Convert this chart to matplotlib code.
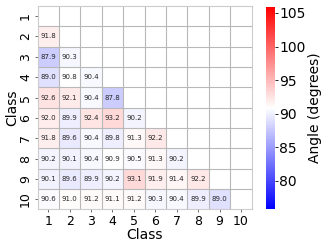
import numpy as np
import matplotlib
matplotlib.use("Agg")
import matplotlib.pyplot as plt

classes = [str(i) for i in range(1, 11)]

# lower triangle rows (class 2..10)
rows = [
    [91.8],
    [87.9, 90.3],
    [89.0, 90.8, 90.4],
    [92.6, 92.1, 90.4, 87.8],
    [92.0, 89.9, 92.4, 93.2, 90.2],
    [91.8, 89.6, 90.4, 89.8, 91.3, 92.2],
    [90.2, 90.1, 90.4, 90.9, 90.5, 91.3, 90.2],
    [90.1, 89.6, 89.9, 90.2, 93.1, 91.9, 91.4, 92.2],
    [90.6, 91.0, 91.2, 91.1, 91.2, 90.3, 90.4, 89.9, 89.0],
]

n = len(classes)
angles = np.full((n, n), np.nan)
for i, r in enumerate(rows):
    angles[i + 1, :len(r)] = r

vmin, vmax = 75.8, 105.9

fig = plt.figure(figsize=(3.29, 2.47), dpi=100)
ax = fig.add_axes([0.114, 0.152, 0.651, 0.824])
cax = fig.add_axes([0.808, 0.154, 0.028, 0.818])

mesh = ax.pcolormesh(np.ma.masked_invalid(angles), cmap="bwr",
                     vmin=vmin, vmax=vmax)
ax.set_xlim(0, n)
ax.set_ylim(n, 0)

grid_c = "#b8b8b8"
for k in range(1, n):
    ax.axhline(k, color=grid_c, lw=0.8)
    ax.axvline(k, color=grid_c, lw=0.8)
for s in ax.spines.values():
    s.set_color("#cccccc")
    s.set_linewidth(0.8)

for i in range(n):
    for j in range(n):
        if not np.isnan(angles[i, j]):
            ax.text(j + 0.5, i + 0.5, f"{angles[i, j]:.1f}",
                    ha="center", va="center", fontsize=5, color="#262626")

ax.set_xticks(np.arange(n) + 0.5)
ax.set_xticklabels(classes, fontsize=9)
ax.set_yticks(np.arange(n) + 0.5)
ax.set_yticklabels(classes, fontsize=9, rotation=90, va="center")
ax.tick_params(length=2, width=0.6, color="#555555", pad=2)
ax.set_xlabel("Class", fontsize=10, labelpad=0)
ax.set_ylabel("Class", fontsize=10, labelpad=0)

cb = fig.colorbar(mesh, cax=cax)
cb.set_ticks([80, 85, 90, 95, 100, 105])
cb.ax.tick_params(labelsize=10, length=2, width=0.6, pad=1)
cb.outline.set_visible(False)
cb.set_label("Angle (degrees)", fontsize=10, labelpad=2)

fig.savefig("out.png", dpi=100)
